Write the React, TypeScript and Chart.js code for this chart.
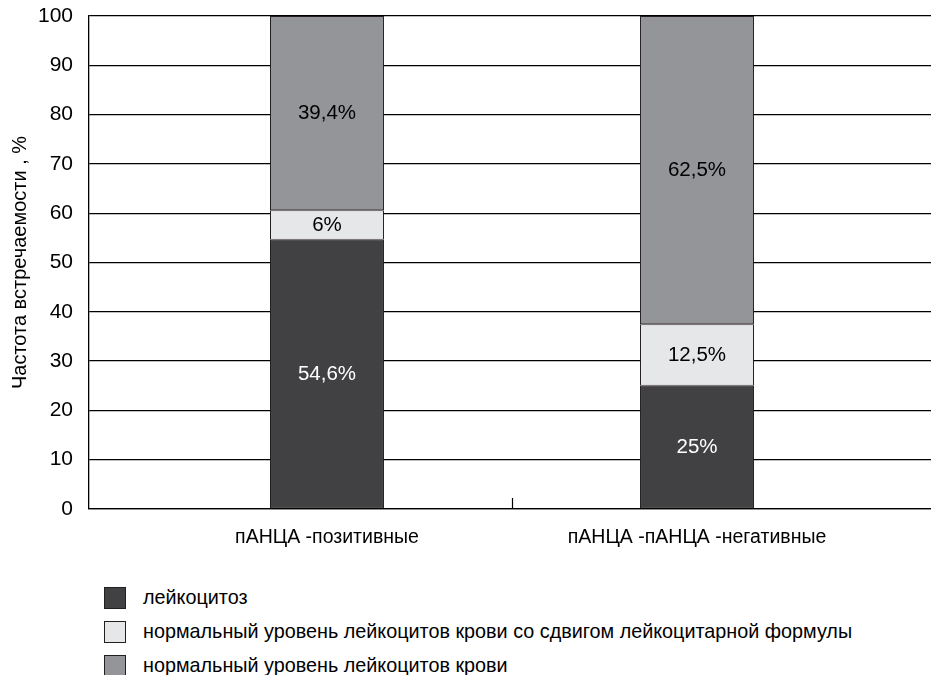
import React, { useEffect, useRef } from 'react';
import { Chart, registerables } from 'chart.js';

Chart.register(...registerables);

const categories = ['пАНЦА -позитивные', 'пАНЦА -пАНЦА -негативные'];
const seriesLabels = [
  'лейкоцитоз',
  'нормальный уровень лейкоцитов крови со сдвигом лейкоцитарной формулы',
  'нормальный уровень лейкоцитов крови',
];
const leukocytosis = [54.6, 25];
const shiftedFormula = [6, 12.5];
const normalLevel = [39.4, 62.5];
const yTickValues = [0, 10, 20, 30, 40, 50, 60, 70, 80, 90, 100];
const yTitle = 'Частота встречаемости , %';

const seriesColors = ['#414042', '#e6e7e8', '#939598'];
const labelColors = ['#ffffff', '#000000', '#000000'];
const FONT = '"Liberation Sans", Arial, sans-serif';

const positions = categories.map((_, i) => i + 1);

const fmt = (v: number) => String(v).replace('.', ',') + '%';

const barLabelsPlugin = {
  id: 'barLabels',
  afterDatasetsDraw(chart: any) {
    const ctx = chart.ctx;
    ctx.save();
    ctx.font = `20.5px ${FONT}`;
    ctx.textAlign = 'center';
    ctx.textBaseline = 'middle';
    chart.data.datasets.forEach((ds: any, di: number) => {
      const meta = chart.getDatasetMeta(di);
      meta.data.forEach((el: any, i: number) => {
        const { x, y, base } = el.getProps(['x', 'y', 'base'], true);
        ctx.fillStyle = labelColors[di];
        ctx.fillText(fmt(ds.data[i].y), x, (y + base) / 2);
      });
    });
    ctx.restore();
  },
};

const dividerPlugin = {
  id: 'divider',
  afterDatasetsDraw(chart: any) {
    const xs = chart.scales.x;
    const ctx = chart.ctx;
    const bottom = chart.chartArea.bottom;
    ctx.save();
    ctx.strokeStyle = '#000';
    ctx.lineWidth = 1.2;
    for (let i = 0; i < positions.length - 1; i++) {
      const px = Math.round(xs.getPixelForValue((positions[i] + positions[i + 1]) / 2)) + 0.5;
      ctx.beginPath();
      ctx.moveTo(px, bottom);
      ctx.lineTo(px, bottom - 11);
      ctx.stroke();
    }
    ctx.restore();
  },
};

export default function App() {
  const ref = useRef<HTMLCanvasElement>(null);

  useEffect(() => {
    if (!ref.current) return;
    const series = [leukocytosis, shiftedFormula, normalLevel];
    const chart = new Chart(ref.current, {
      type: 'bar',
      data: {
        datasets: series.map((vals, si) => ({
          label: seriesLabels[si],
          data: vals.map((v, i) => ({ x: positions[i], y: v })),
          backgroundColor: seriesColors[si],
          borderColor: '#231f20',
          borderWidth: 1,
          borderSkipped: false,
          categoryPercentage: 1,
          barPercentage: 0.308,
        })),
      },
      options: {
        animation: false,
        responsive: true,
        maintainAspectRatio: false,
        layout: { padding: { top: 16, left: 0, right: 0, bottom: 0 } },
        plugins: {
          legend: { display: false },
          tooltip: { enabled: false },
        },
        scales: {
          x: {
            type: 'linear',
            stacked: true,
            offset: false,
            min: 0.3568,
            max: 2.6324,
            afterBuildTicks: (scale: any) => {
              scale.ticks = positions.map((p) => ({ value: p }));
            },
            afterFit: (scale: any) => {
              scale.height = 51;
              scale.paddingLeft = 0;
              scale.paddingRight = 0;
            },
            grid: { display: false, drawTicks: false },
            border: { display: true, color: '#000', width: 1.3 },
            ticks: {
              padding: 17,
              color: '#000',
              font: { family: FONT, size: 19.5 },
              maxRotation: 0,
              autoSkip: false,
              callback: (v: any) => {
                const idx = positions.indexOf(Number(v));
                return idx >= 0 ? categories[idx] : '';
              },
            },
          },
          y: {
            type: 'linear',
            stacked: true,
            min: 0,
            max: 100,
            afterBuildTicks: (scale: any) => {
              scale.ticks = yTickValues.map((v) => ({ value: v }));
            },
            afterFit: (scale: any) => {
              scale.width = 89;
              scale.paddingTop = 0;
              scale.paddingBottom = 0;
            },
            grid: { color: '#000', lineWidth: 1.3, drawTicks: false },
            border: { display: true, color: '#000', width: 1.3 },
            ticks: {
              padding: 16,
              color: '#000',
              font: { family: FONT, size: 21 },
            },
            title: {
              display: true,
              text: yTitle,
              color: '#000',
              font: { family: FONT, size: 20 },
              padding: { top: 8, bottom: 0 },
            },
          },
        },
      },
      plugins: [barLabelsPlugin, dividerPlugin],
    });
    return () => chart.destroy();
  }, []);

  return (
    <div
      style={{
        position: 'absolute',
        left: 0,
        top: 0,
        width: 931,
        height: 675,
        overflow: 'hidden',
        background: '#fff',
        fontFamily: FONT,
      }}
    >
      <div style={{ position: 'relative', width: 931, height: 560 }}>
        <canvas ref={ref} />
      </div>
      {seriesLabels.map((label, i) => (
        <div
          key={label}
          style={{
            position: 'absolute',
            left: 104,
            top: 587 + i * 34,
            height: 22,
            display: 'flex',
            alignItems: 'center',
            whiteSpace: 'nowrap',
          }}
        >
          <span
            style={{
              display: 'inline-block',
              width: 22,
              height: 22,
              boxSizing: 'border-box',
              border: '1px solid #231f20',
              background: seriesColors[i],
            }}
          />
          <span
            style={{
              marginLeft: 17,
              fontSize: 19.8,
              color: '#000',
              lineHeight: '22px',
              position: 'relative',
              top: -1,
            }}
          >
            {label}
          </span>
        </div>
      ))}
    </div>
  );
}
